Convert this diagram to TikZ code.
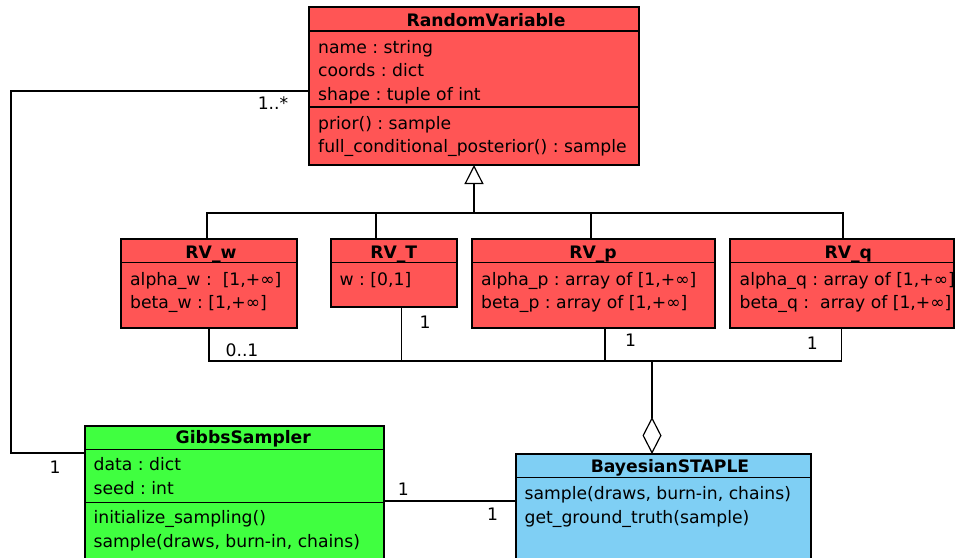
\documentclass[tikz,border=0pt]{standalone}
\usepackage{fontspec}
\setmainfont{DejaVu Sans}
\usetikzlibrary{arrows.meta,calc}

\definecolor{rvred}{HTML}{FF5555}
\definecolor{gibbsgreen}{HTML}{40FF40}
\definecolor{staplblue}{HTML}{7FCFF4}

\tikzset{
  x=1pt, y=-1pt,
  frame/.style={draw=black, line width=1.4pt, anchor=north west, inner sep=0pt, outer sep=0pt},
  sep/.style={draw=black, line width=1.4pt},
  ctitle/.style={anchor=base, inner sep=0pt, font=\fontsize{17.2}{20}\selectfont\bfseries\frenchspacing},
  member/.style={anchor=base west, inner sep=0pt, font=\fontsize{17.2}{20}\selectfont\frenchspacing},
  mult/.style={inner sep=0pt, font=\fontsize{17.2}{20}\selectfont},
  link/.style={draw=black, line width=1.2pt},
}

\begin{document}
\begin{tikzpicture}
\clip (0,0) rectangle (955,557);
\fill[white] (0,0) rectangle (955,557);

% ---------- RandomVariable ----------
\node[frame, fill=rvred, minimum width=330pt, minimum height=158pt] (rv) at (309,7) {};
\draw[sep] (309,31) -- (639,31);
\draw[sep] (309,107) -- (639,107);
\node[ctitle] (rvtitle) at (486,26) {RandomVariable};
\node[member] (rva1) at (318,53.3) {name : string};
\node[member] (rva2) at (318,76.7) {coords : dict};
\node[member] (rva3) at (318,100) {shape : tuple of int};
\node[member] (rvm1) at (318,129) {prior() : sample};
\node[member] (rvm2) at (318,152.5) {full\_conditional\_posterior() : sample};

% ---------- RV_w ----------
\node[frame, fill=rvred, minimum width=176pt, minimum height=89pt] (rvw) at (121,239) {};
\draw[sep] (121,262.5) -- (297,262.5);
\node[ctitle] (rvwtitle) at (211,258.3) {RV\_w};
\node[member] (rvwa1) at (130,285) {alpha\_w :\ \ [1,+∞]};
\node[member] (rvwa2) at (130,308) {beta\_w : [1,+∞]};

% ---------- RV_T ----------
\node[frame, fill=rvred, minimum width=126pt, minimum height=68pt] (rvt) at (331,239) {};
\draw[sep] (331,262.5) -- (457,262.5);
\node[ctitle] (rvttitle) at (393.7,258.3) {RV\_T};
\node[member] (rvta1) at (339.5,285) {w : [0,1]};

% ---------- RV_p ----------
\node[frame, fill=rvred, minimum width=243pt, minimum height=89pt] (rvp) at (472,239) {};
\draw[sep] (472,262.5) -- (715,262.5);
\node[ctitle] (rvptitle) at (593,258.3) {RV\_p};
\node[member] (rvpa1) at (481,285) {alpha\_p : array of [1,+∞]};
\node[member] (rvpa2) at (481,308) {beta\_p : array of [1,+∞]};

% ---------- RV_q ----------
\node[frame, fill=rvred, minimum width=224pt, minimum height=89pt] (rvq) at (730,239) {};
\draw[sep] (730,262.5) -- (954,262.5);
\node[ctitle] (rvqtitle) at (848.3,258.3) {RV\_q};
\node[member] (rvqa1) at (739.5,285) {alpha\_q : array of [1,+∞]};
\node[member] (rvqa2) at (739.5,308) {beta\_q :\ \ array of [1,+∞]};

% ---------- GibbsSampler ----------
\node[frame, fill=gibbsgreen, minimum width=299pt, minimum height=150pt] (gibbs) at (85,426) {};
\draw[sep] (85,449.5) -- (384,449.5);
\draw[sep] (85,502.5) -- (384,502.5);
\node[ctitle] (gibbstitle) at (243.3,443.3) {GibbsSampler};
\node[member] (gia1) at (93.5,470.7) {data : dict};
\node[member] (gia2) at (93.5,494.3) {seed : int};
\node[member] (gim1) at (93.5,523.3) {initialize\_sampling()};
\node[member] (gim2) at (93.5,547.3) {sample(draws, burn-in, chains)};

% ---------- BayesianSTAPLE ----------
\node[frame, fill=staplblue, minimum width=295pt, minimum height=130pt] (bayes) at (516,454) {};
\draw[sep] (516,477.7) -- (811,477.7);
\node[ctitle] (bayestitle) at (670,472.7) {BayesianSTAPLE};
\node[member] (bam1) at (524.5,499.3) {sample(draws, burn-in, chains)};
\node[member] (bam2) at (524.5,523.3) {get\_ground\_truth(sample)};

% ---------- generalisation: every RV_* inherits from RandomVariable ----------
\coordinate (genhub) at (474,213);
\draw[link] ($(rvw.north west)+(86,0)$) |- (genhub);
\draw[link] ($(rvt.north west)+(45,0)$) |- (genhub);
\draw[link] ($(rvp.north west)+(119,0)$) |- (genhub);
\draw[link] ($(rvq.north west)+(113,0)$) |- (genhub);
\draw[link, -{Triangle[open, length=19pt, width=19pt, line width=1.2pt]}, fill=white] (genhub) -- (rv.south);

% ---------- aggregation: BayesianSTAPLE holds the random variables ----------
\coordinate (agghub) at (652,361);
\draw[link] ($(rvw.south west)+(88,0)$) |- (agghub);
\draw[link] ($(rvt.south west)+(70.7,0)$) |- (agghub);
\draw[link] ($(rvp.south west)+(133,0)$) |- (agghub);
\draw[link] ($(rvq.south west)+(111.7,0)$) |- (agghub);
\draw[link, {Diamond[open, length=37pt, width=19pt, line width=1.2pt]}-, fill=white] ($(bayes.north west)+(136,0)$) -- (agghub);

% ---------- associations ----------
\coordinate (leftbend) at (11,91);
\draw[link] ($(rv.north west)+(0,84)$) -- (leftbend) |- ($(gibbs.north west)+(0,27)$);
\draw[link] ($(gibbs.north east)+(0,75)$) -- ($(bayes.north west)+(0,47)$);

% ---------- multiplicities ----------
\node[mult] (m1) at (273,102.7) {1..*};
\node[mult] (m2) at (242,350) {0..1};
\node[mult] (m3) at (425,322.7) {1};
\node[mult] (m4) at (630.7,340.7) {1};
\node[mult] (m5) at (812.3,343.3) {1};
\node[mult] (m6) at (55,467.3) {1};
\node[mult] (m7) at (403.3,489.3) {1};
\node[mult] (m8) at (492.7,514.3) {1};
\end{tikzpicture}
\end{document}
